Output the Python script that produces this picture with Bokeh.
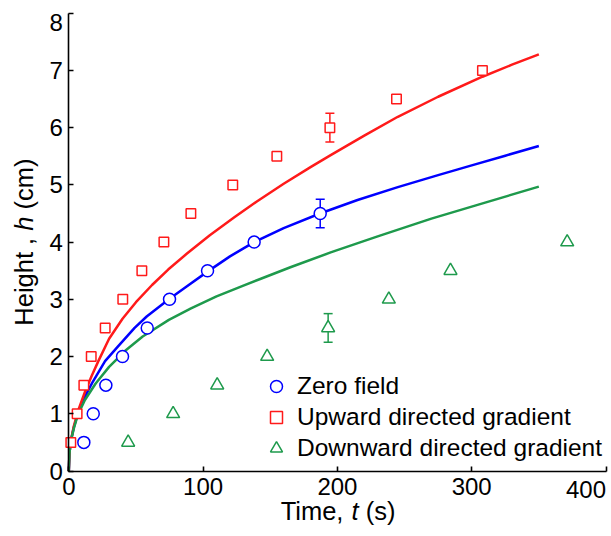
from bokeh.plotting import figure
from bokeh.models import (ColumnDataSource, Whisker, TeeHead, Label, Legend,
                          LegendItem, Range1d, FixedTicker)
from bokeh.embed import file_html
from bokeh.resources import INLINE

# ---------------- data ----------------
x_ticks = [0, 100, 200, 300, 400]
y_ticks = [0, 1, 2, 3, 4, 5, 6, 7, 8]

zero_t = [11.2, 18.2, 27.6, 40, 58.4, 75, 103.3, 138, 187.2]
zero_h = [0.5, 1.0, 1.5, 2.0, 2.5, 3.0, 3.5, 4.0, 4.5]

up_t = [1.5, 6.2, 11.2, 16.7, 27.1, 40.2, 54.4, 70.8, 90.9, 122.1, 154.9, 194.4, 244, 308]
up_h = [0.5, 1.0, 1.5, 2.0, 2.5, 3.0, 3.5, 4.0, 4.5, 5.0, 5.5, 6.0, 6.5, 7.0]

down_t = [44.2, 77.7, 110.5, 147.7, 193.1, 238.3, 284.2, 371.1]
down_h = [0.5, 1.0, 1.5, 2.0, 2.5, 3.0, 3.5, 4.0]

# error bars (one per series)
err_t = [187.2, 194.4, 193.1]
err_h = [4.5, 6.0, 2.5]
err_d = [0.25, 0.25, 0.25]

# model curves
zero_fit_t = [0, 0.5, 1.3, 3.7, 6.7, 12, 17.4, 27, 36, 49, 58, 74.5, 88, 103, 120, 138,
              160, 187, 215, 245, 275, 300, 325, 350]
zero_fit_h = [0, 0.3, 0.5, 0.76, 1.0, 1.30, 1.54, 1.92, 2.16, 2.50, 2.70, 3.0, 3.23, 3.48,
              3.75, 4.0, 4.245, 4.5, 4.735, 4.96, 5.17, 5.34, 5.51, 5.68]

up_fit_t = [0, 0.5, 1.3, 3.7, 7, 12, 17, 22, 30, 40, 50, 62, 74, 88, 105, 123, 140, 160,
            180, 195, 220, 245, 275, 308, 330, 350]
up_fit_h = [0, 0.3, 0.5, 0.78, 1.06, 1.38, 1.66, 1.92, 2.31, 2.66, 2.95, 3.25, 3.52, 3.8,
            4.12, 4.43, 4.71, 5.02, 5.31, 5.52, 5.86, 6.19, 6.54, 6.89, 7.1, 7.28]

down_fit_t = [0, 0.5, 1.3, 3.7, 6.7, 12, 20, 30, 42, 55, 74.5, 91, 110, 130, 143, 165,
              195, 230, 270, 310, 350]
down_fit_h = [0, 0.3, 0.5, 0.74, 0.98, 1.24, 1.53, 1.82, 2.10, 2.35, 2.64, 2.84, 3.05,
              3.24, 3.36, 3.56, 3.82, 4.1, 4.41, 4.69, 4.97]

BLUE = "#0000ff"
RED = "#ff1a1a"
GREEN = "#1e9a4c"
FONT = "Liberation Sans"

W, H = 611, 536
# plot area of the reference in page pixels
X0_PX, X1_PX = 68.3, 605.5      # x = 0 and x = 400
Y0_PX, Y1_PX = 470.5, 12.7      # y = 0 and y = 8
sx = (X1_PX - X0_PX) / 400.0
sy = (Y0_PX - Y1_PX) / 8.0

def dx(px):
    return (px - X0_PX) / sx

def dy(py):
    return (Y0_PX - py) / sy

# the frame covers the whole page; the axes sit at x = 0 and y = 0
p = figure(width=W, height=H,
           x_range=Range1d(dx(0), dx(W)), y_range=Range1d(dy(H), dy(0)),
           output_backend="svg", toolbar_location=None,
           min_border_left=0, min_border_right=0, min_border_top=0, min_border_bottom=0)
p.outline_line_color = None
p.xgrid.visible = False
p.ygrid.visible = False
p.background_fill_color = "white"
p.border_fill_color = "white"

for ax in (p.xaxis[0], p.yaxis[0]):
    ax.fixed_location = 0
    ax.axis_line_width = 1.6
    ax.axis_line_color = "black"
    ax.major_tick_in = 5
    ax.major_tick_out = 0
    ax.major_tick_line_width = 1.6
    ax.minor_tick_line_color = None
    ax.major_label_text_font = FONT
    ax.major_label_text_font_size = "24px"
    ax.major_label_text_color = "black"

p.xaxis.bounds = (0, 400)
p.yaxis.bounds = (0, 8)
p.xaxis.ticker = FixedTicker(ticks=x_ticks)
p.yaxis.ticker = FixedTicker(ticks=y_ticks)
p.xaxis.major_label_standoff = 7
p.yaxis.major_label_standoff = 6
p.xaxis.major_label_overrides = {400: ""}
p.yaxis.major_label_overrides = {8: ""}

# curves
p.line(zero_fit_t, zero_fit_h, line_color=BLUE, line_width=2.5, line_join="round")
p.line(up_fit_t, up_fit_h, line_color=RED, line_width=2.5, line_join="round")
p.line(down_fit_t, down_fit_h, line_color=GREEN, line_width=2.5, line_join="round")

# error bars
colors = [BLUE, RED, GREEN]
for t, h, d, c in zip(err_t, err_h, err_d, colors):
    src = ColumnDataSource(dict(x=[t], lo=[h - d], hi=[h + d]))
    w = Whisker(source=src, base="x", lower="lo", upper="hi", dimension="height",
                line_color=c, line_width=1.5,
                upper_head=TeeHead(size=9, line_color=c, line_width=1.5),
                lower_head=TeeHead(size=9, line_color=c, line_width=1.5))
    p.add_layout(w)

r_zero = p.scatter(zero_t, zero_h, marker="circle", size=12, line_color=BLUE,
                   fill_color="white", line_width=1.5)
r_up = p.scatter(up_t, up_h, marker="square", size=9.5, line_color=RED,
                 fill_color="white", line_width=1.5)
r_down = p.scatter(down_t, down_h, marker="triangle", size=13, line_color=GREEN,
                   fill_color="white", line_width=1.5)

legend = Legend(items=[LegendItem(label="Zero field", renderers=[r_zero]),
                       LegendItem(label="Upward directed gradient", renderers=[r_up]),
                       LegendItem(label="Downward directed gradient", renderers=[r_down])],
                location=(261, 73), padding=0, spacing=1, margin=0,
                border_line_color=None, background_fill_alpha=0,
                label_text_font=FONT, label_text_font_size="24.5px",
                label_text_color="black",
                label_standoff=6, glyph_width=30, glyph_height=30)
p.add_layout(legend)

# end tick labels kept inside the window, as in the reference
p.add_layout(Label(x=400, y=dy(488.5), text="400", text_align="right",
                   text_baseline="middle", text_font=FONT, text_font_size="24px",
                   text_color="black"))
p.add_layout(Label(x=dx(62.3), y=dy(22), text="8", text_align="right",
                   text_baseline="middle", text_font=FONT, text_font_size="24px",
                   text_color="black"))

# axis titles with italic variables
TFS = 25.5
em = TFS
tx0 = 337.5 - 4.5 * em / 2          # left edge of "Time, t (s)"
ty = dy(510)
p.add_layout(Label(x=dx(tx0), y=ty, text="Time,", text_align="left", text_baseline="middle",
                   text_font=FONT, text_font_size=f"{TFS}px", text_color="black"))
p.add_layout(Label(x=dx(tx0 + 2.778 * em), y=ty, text="t", text_align="left",
                   text_baseline="middle", text_font=FONT, text_font_size=f"{TFS}px",
                   text_font_style="italic", text_color="black"))
p.add_layout(Label(x=dx(tx0 + 3.334 * em), y=ty, text="(s)", text_align="left",
                   text_baseline="middle", text_font=FONT, text_font_size=f"{TFS}px",
                   text_color="black"))

hx = dx(23)
hy0 = 241.6 + 6.557 * em / 2        # bottom end of the rotated title
p.add_layout(Label(x=hx, y=dy(hy0), text="Height ,", text_align="left", text_baseline="middle",
                   angle=1.5707963, text_font=FONT, text_font_size=f"{TFS}px",
                   text_color="black"))
p.add_layout(Label(x=hx, y=dy(hy0 - 3.724 * em), text="h", text_align="left",
                   text_baseline="middle", angle=1.5707963, text_font=FONT,
                   text_font_size=f"{TFS}px", text_font_style="italic", text_color="black"))
p.add_layout(Label(x=hx, y=dy(hy0 - 4.558 * em), text="(cm)", text_align="left",
                   text_baseline="middle", angle=1.5707963, text_font=FONT,
                   text_font_size=f"{TFS}px", text_color="black"))

open("out.html", "w").write(file_html(p, INLINE))
